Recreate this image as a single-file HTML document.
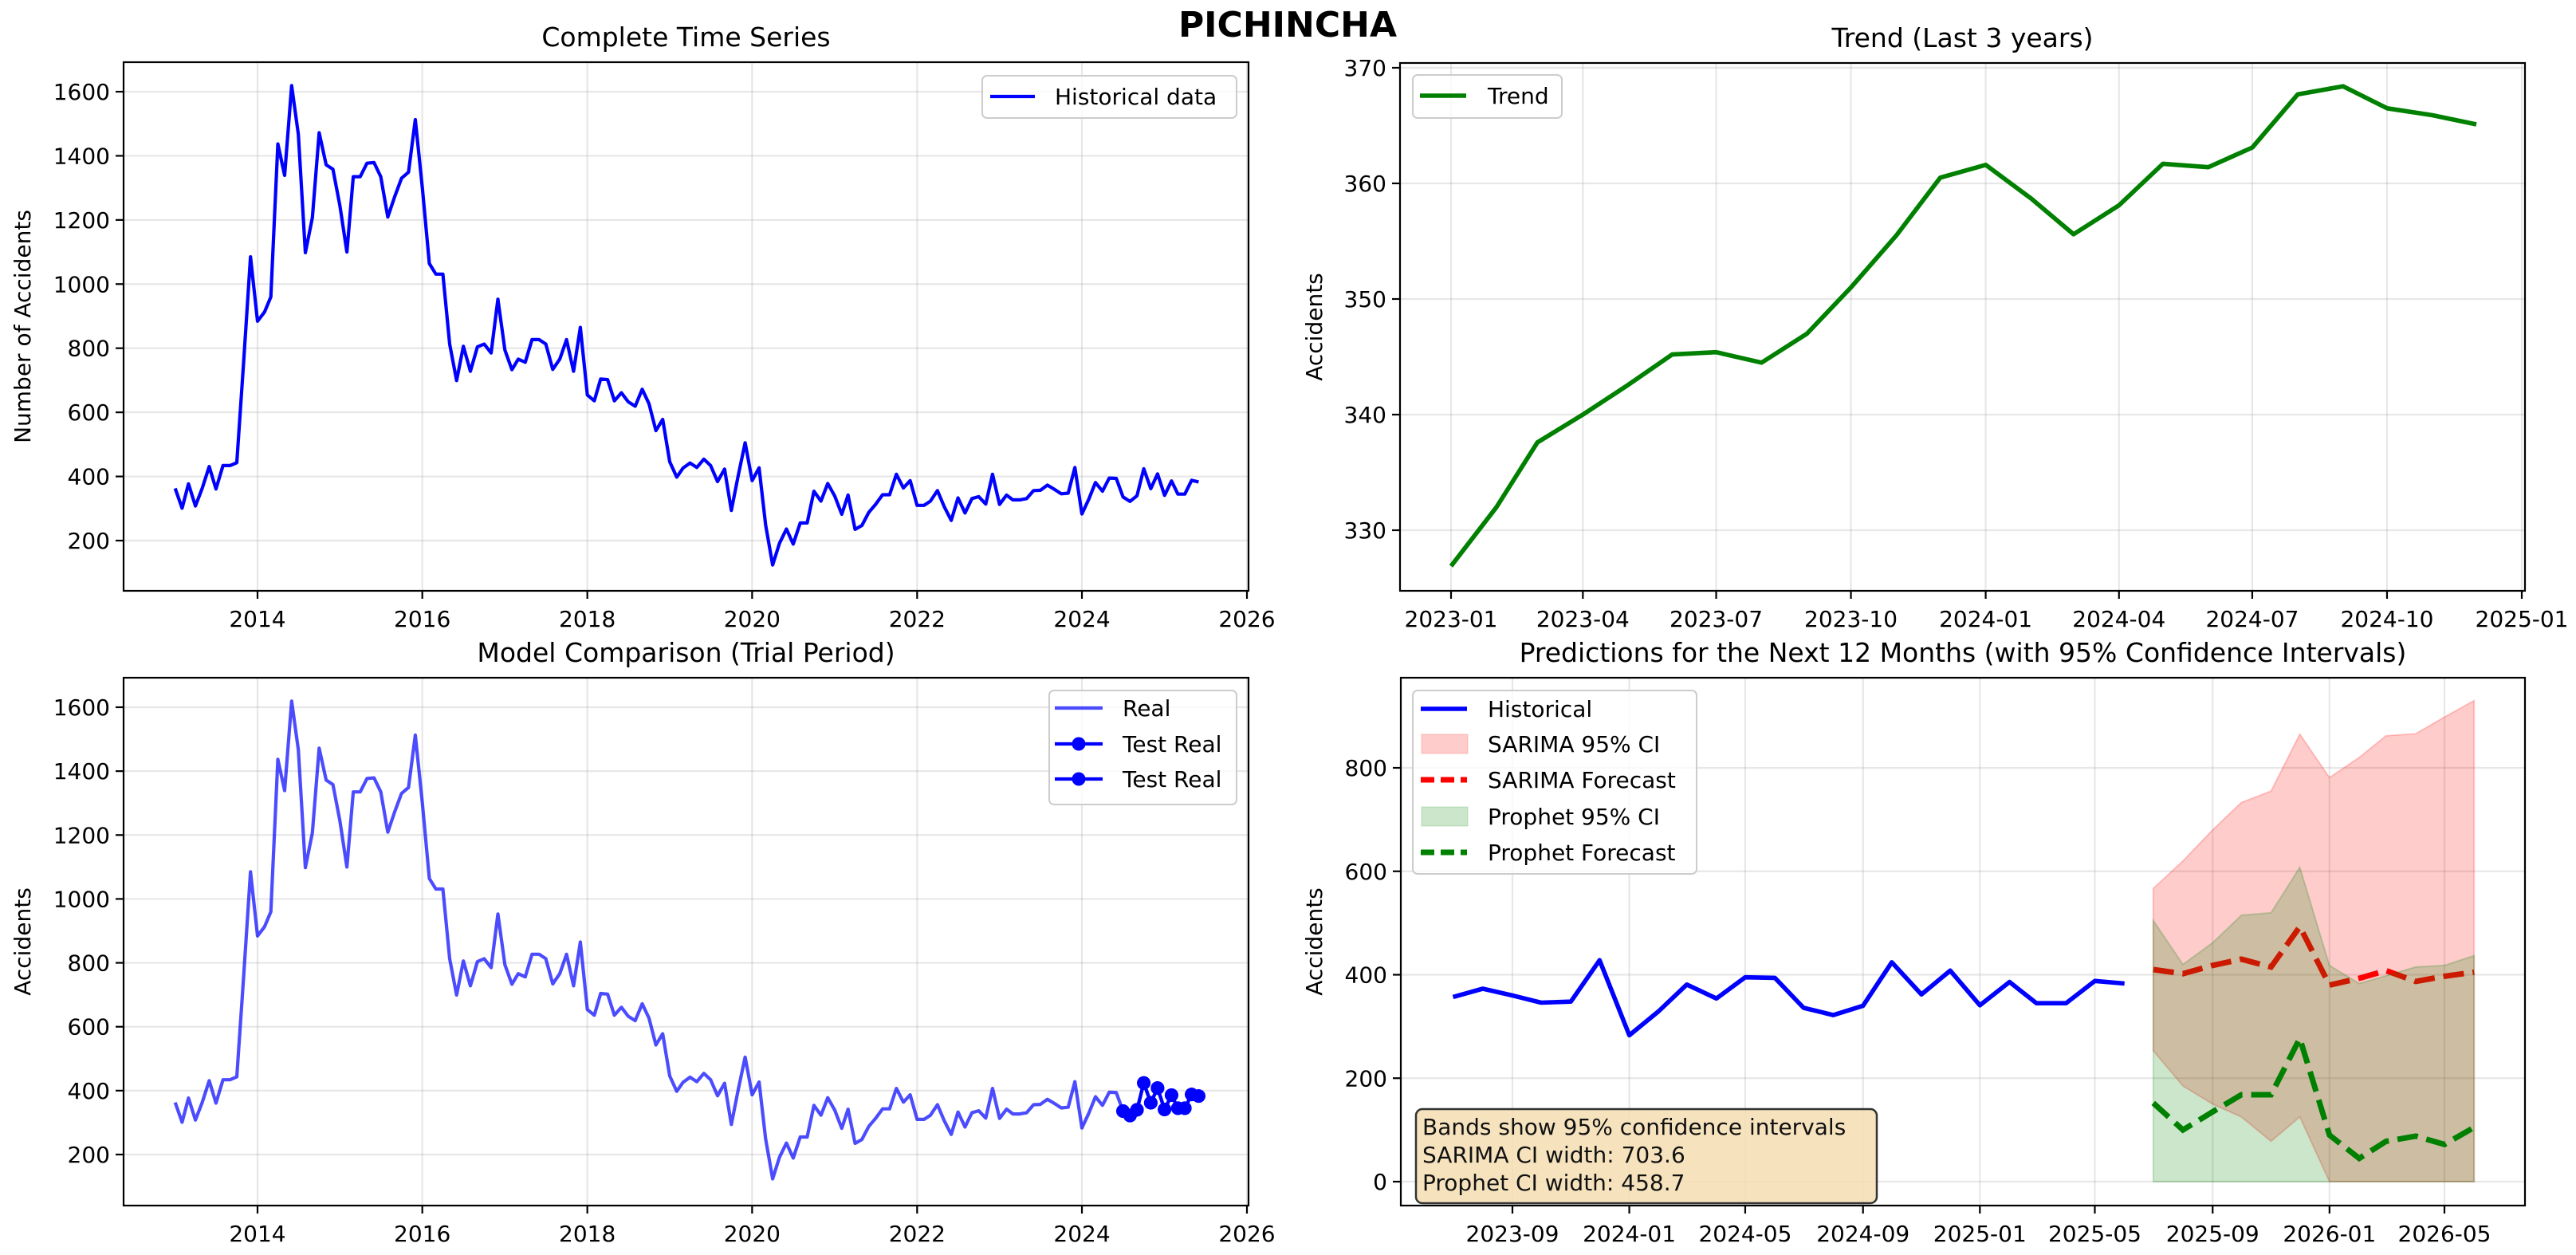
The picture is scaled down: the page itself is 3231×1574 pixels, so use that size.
<!DOCTYPE html>
<html><head><meta charset="utf-8"><style>
html,body{margin:0;padding:0;background:#fff;}
svg{display:block;font-family:"DejaVu Sans","Liberation Sans",sans-serif;}
</style></head><body>
<svg id="fig" width="3231" height="1574" viewBox="0 0 3231 1574" xmlns="http://www.w3.org/2000/svg">
<rect width="3231" height="1574" fill="#fff"/>
<text x="1615" y="46" font-size="44" font-weight="bold" text-anchor="middle">PICHINCHA</text>
<g id="tl"></g>
<g id="tr"></g>
<g id="bl"></g>
<g id="br"></g>
</svg>
<script>
// ---- data ----
const histStartYear = 2013;
const historical = [
363,301,377,308,363,431,361,434,434,443,761,1085,
884,913,960,1437,1339,1619,1467,1098,1207,1472,1372,1358,
1245,1100,1335,1335,1377,1379,1335,1209,1273,1330,1349,1513,
1301,1064,1031,1031,813,699,806,728,804,813,785,953,
794,733,766,756,827,827,813,734,766,827,728,865,
654,636,704,702,636,661,633,619,672,627,543,578,
446,398,426,442,428,454,434,384,423,294,405,505,
387,427,249,124,191,236,189,255,255,354,323,378,
339,282,342,235,247,288,313,343,343,407,364,387,
310,310,323,356,306,263,333,286,331,337,314,407,
313,342,327,327,331,356,357,373,360,346,348,428,
283,330,381,354,395,394,336,322,340,424,362,408,
341,386,345,345,388,383];
const trendValues = [326.9,332,337.6,340,342.5,345.2,345.4,344.5,347,351,355.5,360.5,361.6,358.7,355.6,358.1,361.7,361.4,363.1,367.7,368.4,366.5,365.9,365.1];
const sarimaForecast = [410,402,418,430,415,493,380,393,408,387,397,405];
const sarimaUpper = [567,620,680,733,755,865,781,820,862,866,898,930];
const sarimaLower = [253,185,150,125,78,125,0,0,0,0,0,0];
const prophetForecast = [152,100,135,168,168,277,90,45,78,88,72,105];
const prophetUpper = [505,420,462,515,520,608,418,383,398,415,418,437];
const prophetLower = [0,0,0,0,0,0,0,0,0,0,0,0];
const yearTicks = ["2014","2016","2018","2020","2022","2024","2026"];
const countTicks = [200,400,600,800,1000,1200,1400,1600];
const trendTicks = [330,340,350,360,370];
const trendDateTicks = ["2023-01","2023-04","2023-07","2023-10","2024-01","2024-04","2024-07","2024-10","2025-01"];
const predTicks = [0,200,400,600,800];
const predDateTicks = ["2023-09","2024-01","2024-05","2024-09","2025-01","2025-05","2025-09","2026-01","2026-05"];

const NS="http://www.w3.org/2000/svg";
function mk(parent,tag,attrs,text){const e=document.createElementNS(NS,tag);for(const k in attrs)e.setAttribute(k,attrs[k]);if(text!==undefined)e.textContent=text;parent.appendChild(e);return e;}
function day(s){const p=s.split("-");return Date.UTC(+p[0],(+p[1]||1)-1,1)/86400000;}
function monthStr(y,m){const yy=y+Math.floor(m/12),mm=m%12+1;return yy+"-"+(mm<10?"0":"")+mm;}

function axes(g,L,R,T,B,xs,xticks,ys,yticks,title,ylabel){
  for(const t of xticks){const x=xs(t.v);
    const gl=mk(g,"line",{x1:x,x2:x,y1:T,y2:B,stroke:"#b0b0b0","stroke-opacity":0.3,"stroke-width":2.2});
    
    
    mk(g,"line",{x1:x,x2:x,y1:B,y2:B+10,stroke:"#000","stroke-width":2.2});
    const tx=mk(g,"text",{x:x,y:B+45,"font-size":28,"text-anchor":"middle"},t.l);
    
    
  }
  for(const v of yticks){const y=ys(v);
    const gl=mk(g,"line",{x1:L,x2:R,y1:y,y2:y,stroke:"#b0b0b0","stroke-opacity":0.3,"stroke-width":2.2});
    
    
    mk(g,"line",{x1:L-10,x2:L,y1:y,y2:y,stroke:"#000","stroke-width":2.2});
    const tx=mk(g,"text",{x:L-17,y:y+10,"font-size":28,"text-anchor":"end"},String(v));
    
    
  }
  const tt=mk(g,"text",{x:(L+R)/2,y:T-20,"font-size":33,"text-anchor":"middle"},title);
  
  
  const lx = ylabel==="Number of Accidents"?38:(L<1000?38:1658);
  const yl=mk(g,"text",{x:lx,y:(T+B)/2,"font-size":28,"text-anchor":"middle",transform:"rotate(-90 "+lx+" "+((T+B)/2)+")"},ylabel);
  
  
}
function frame(g,L,R,T,B){const f=mk(g,"rect",{x:L,y:T,width:R-L,height:B-T,fill:"none",stroke:"#000","stroke-width":2.2});
  
  }
function legendBox(g,x,y,w,h){const r=mk(g,"rect",{x:x,y:y,width:w,height:h,rx:6,fill:"#fff","fill-opacity":0.8,stroke:"#ccc","stroke-width":2});
  
  }
function pathOf(xsArr,ysArr){return xsArr.map((x,i)=>(i?"L":"M")+x.toFixed(1)+","+ysArr[i].toFixed(1)).join(" ");}

// ---- Top-left ----
(function(){
  const g=document.getElementById("tl");
  const L=155,R=1566,T=78,B=741;
  const d0=day("2014-01"),d1=day("2026-01");
  const xs=d=>323+(d-d0)*(1564-323)/(d1-d0);
  const ys=v=>115+(1600-v)*(678-115)/1400;
  axes(g,L,R,T,B,xs,yearTicks.map(s=>({v:day(s),l:s})),ys,countTicks,"Complete Time Series","Number of Accidents");
  const px=historical.map((v,i)=>xs(day(monthStr(histStartYear,i)))), py=historical.map(ys);
  const p=mk(g,"path",{d:pathOf(px,py),fill:"none",stroke:"#0000ff","stroke-width":4.2,"stroke-linejoin":"round"});
  
  
  frame(g,L,R,T,B);
  legendBox(g,1232,95,319,53);
  mk(g,"line",{x1:1242,x2:1298,y1:121,y2:121,stroke:"#0000ff","stroke-width":4.2});
  const t=mk(g,"text",{x:1323,y:131,"font-size":28},"Historical data");
  
  
})();

// ---- Top-right ----
(function(){
  const g=document.getElementById("tr");
  const L=1756,R=3167,T=79,B=741;
  const d0=day("2023-01"),d1=day("2025-01");
  const xs=d=>1820+(d-d0)*(3163-1820)/(d1-d0);
  const ys=v=>85+(370-v)*(665-85)/40;
  axes(g,L,R,T,B,xs,trendDateTicks.map(s=>({v:day(s),l:s})),ys,trendTicks,"Trend (Last 3 years)","Accidents");
  const px=trendValues.map((v,i)=>xs(day(monthStr(2023,i)))), py=trendValues.map(ys);
  const p=mk(g,"path",{d:pathOf(px,py),fill:"none",stroke:"#008000","stroke-width":5.6,"stroke-linejoin":"round"});
  
  
  frame(g,L,R,T,B);
  legendBox(g,1772,94,187,54);
  mk(g,"line",{x1:1781,x2:1839,y1:120,y2:120,stroke:"#008000","stroke-width":5.6});
  const t=mk(g,"text",{x:1866,y:130,"font-size":28},"Trend");
  
  
})();

// ---- Bottom-left ----
(function(){
  const g=document.getElementById("bl");
  const L=155,R=1566,T=850,B=1512;
  const d0=day("2014-01"),d1=day("2026-01");
  const xs=d=>323+(d-d0)*(1564-323)/(d1-d0);
  const ys=v=>887+(1600-v)*(1448-887)/1400;
  axes(g,L,R,T,B,xs,yearTicks.map(s=>({v:day(s),l:s})),ys,countTicks,"Model Comparison (Trial Period)","Accidents");
  const px=historical.map((v,i)=>xs(day(monthStr(histStartYear,i)))), py=historical.map(ys);
  const p=mk(g,"path",{d:pathOf(px,py),fill:"none",stroke:"#0000ff","stroke-opacity":0.7,"stroke-width":4.2,"stroke-linejoin":"round"});
  
  
  const n=historical.length, s=n-12;
  const tx=px.slice(s), ty=py.slice(s);
  for(let k=0;k<2;k++){
    const tp=mk(g,"path",{d:pathOf(tx,ty),fill:"none",stroke:"#0000ff","stroke-width":4.2});
    
    
    tx.forEach((x,i)=>{const c=mk(g,"circle",{cx:x,cy:ty[i],r:8.5,fill:"#0000ff"});
      
      });
  }
  frame(g,L,R,T,B);
  legendBox(g,1316,866,235,143);
  const labels=["Real","Test Real","Test Real"], yy=[888,933,977];
  labels.forEach((lb,i)=>{
    mk(g,"line",{x1:1323,x2:1383,y1:yy[i],y2:yy[i],stroke:"#0000ff","stroke-opacity":i?1:0.7,"stroke-width":4.2});
    if(i) mk(g,"circle",{cx:1353,cy:yy[i],r:8.5,fill:"#0000ff"});
    const t=mk(g,"text",{x:1408,y:yy[i]+10,"font-size":28},lb);
    
    
  });
})();

// ---- Bottom-right ----
(function(){
  const g=document.getElementById("br");
  const L=1757,R=3167,T=850,B=1512;
  const d0=day("2023-09"),d1=day("2026-05");
  const xs=d=>1897+(d-d0)*(3066-1897)/(d1-d0);
  const ys=v=>1482-v*(1482-963)/800;
  axes(g,L,R,T,B,xs,predDateTicks.map(s=>({v:day(s),l:s})),ys,predTicks,"Predictions for the Next 12 Months (with 95% Confidence Intervals)","Accidents");
  const last=historical.slice(-24);
  const hx=last.map((v,i)=>xs(day(monthStr(2023,6+i)))), hy=last.map(ys);
  const fx=sarimaForecast.map((v,i)=>xs(day(monthStr(2025,6+i))));
  function band(up,lo,color,name){
    const top=pathOf(fx,up.map(ys));
    const bot=fx.slice().reverse().map((x,i)=>"L"+x.toFixed(1)+","+ys(lo[lo.length-1-i]).toFixed(1)).join(" ");
    const b=mk(g,"path",{d:top+" "+bot+" Z",fill:color,"fill-opacity":0.2,stroke:color,"stroke-opacity":0.2,"stroke-width":2});
    
    
  }
  const h=mk(g,"path",{d:pathOf(hx,hy),fill:"none",stroke:"#0000ff","stroke-width":5.6,"stroke-linejoin":"round"});
  
  
  band(sarimaUpper,sarimaLower,"#ff0000","sarima-ci-band");
  const sf=mk(g,"path",{d:pathOf(fx,sarimaForecast.map(ys)),fill:"none",stroke:"#ff0000","stroke-width":7,"stroke-dasharray":"26,11"});
  
  
  band(prophetUpper,prophetLower,"#008000","prophet-ci-band");
  const pf=mk(g,"path",{d:pathOf(fx,prophetForecast.map(ys)),fill:"none",stroke:"#008000","stroke-width":7,"stroke-dasharray":"26,11"});
  
  
  frame(g,L,R,T,B);
  legendBox(g,1772,866,356,230);
  const yy=[889,933,978,1024,1069];
  mk(g,"line",{x1:1782,x2:1840,y1:yy[0],y2:yy[0],stroke:"#0000ff","stroke-width":5.6});
  mk(g,"rect",{x:1783,y:yy[1]-12,width:58,height:24,fill:"#ff0000","fill-opacity":0.2,stroke:"#ff0000","stroke-opacity":0.2});
  mk(g,"line",{x1:1782,x2:1840,y1:yy[2],y2:yy[2],stroke:"#ff0000","stroke-width":7,"stroke-dasharray":"17,8"});
  mk(g,"rect",{x:1783,y:yy[3]-12,width:58,height:24,fill:"#008000","fill-opacity":0.2,stroke:"#008000","stroke-opacity":0.2});
  mk(g,"line",{x1:1782,x2:1840,y1:yy[4],y2:yy[4],stroke:"#008000","stroke-width":7,"stroke-dasharray":"17,8"});
  ["Historical","SARIMA 95% CI","SARIMA Forecast","Prophet 95% CI","Prophet Forecast"].forEach((lb,i)=>{
    const t=mk(g,"text",{x:1866,y:yy[i]+10,"font-size":28},lb);
    
    
  });
  const box=mk(g,"rect",{x:1776,y:1391,width:578,height:118,rx:8,fill:"#f5deb3","fill-opacity":0.85,stroke:"#333","stroke-width":2.5});
  
  
  ["Bands show 95% confidence intervals","SARIMA CI width: 703.6","Prophet CI width: 458.7"].forEach((s,i)=>{
    const t=mk(g,"text",{x:1784,y:1423+i*35,"font-size":28,fill:"#111"},s);
    
    
  });
})();
</script>
</body></html>
